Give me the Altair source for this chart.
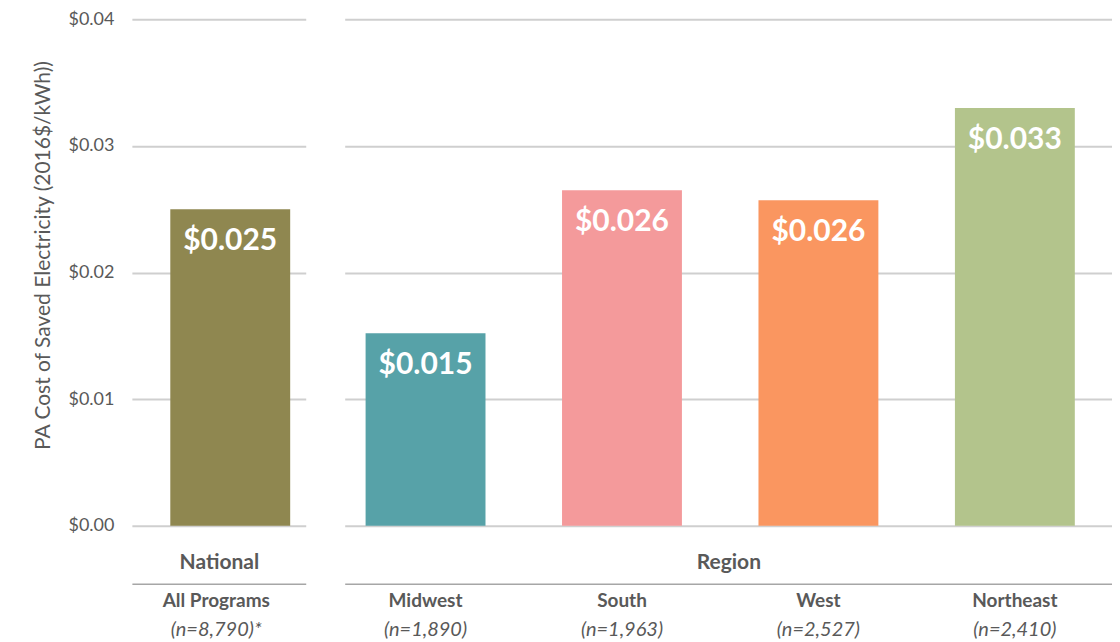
import altair as alt
import pandas as pd

# ---- data ----
nat_categories = ["All Programs"]
nat_values = [0.025]
nat_labels = ["$0.025"]
nat_n = ["(n=8,790)*"]
nat_colors = ["#8F8750"]

reg_categories = ["Midwest", "South", "West", "Northeast"]
reg_values = [0.0152, 0.0265, 0.0257, 0.0330]
reg_labels = ["$0.015", "$0.026", "$0.026", "$0.033"]
reg_n = ["(n=1,890)", "(n=1,963)", "(n=2,527)", "(n=2,410)"]
reg_colors = ["#57A2A8", "#F49A9B", "#FA9660", "#B3C48C"]

y_ticks = [0.0, 0.01, 0.02, 0.03, 0.04]

nat_df = pd.DataFrame({"cat": nat_categories, "value": nat_values,
                       "label": nat_labels, "n": nat_n})
reg_df = pd.DataFrame({"cat": reg_categories, "value": reg_values,
                       "label": reg_labels, "n": reg_n})

all_cats = nat_categories + reg_categories
all_colors = nat_colors + reg_colors

FONT = "Lato"
GREY = "#595959"
GRID = "#CFCFCF"
H = 507


def panel(df, cats, width, title, align, po, left_axis, shift):
    xscale = alt.Scale(domain=cats, paddingInner=0.39, paddingOuter=po, align=align)
    xaxis = alt.Axis(
        title=title, titleY=-21, titleBaseline="middle", titleFont=FONT,
        titleFontSize=21, titleFontWeight="bold", titleColor=GREY,
        orient="bottom", offset=58, domain=True, domainColor="#A6A6A6",
        domainWidth=1.5, ticks=False, grid=False,
        labelFont=FONT, labelFontSize=19, labelFontWeight="bold",
        labelColor=GREY, labelPadding=17, labelBaseline="middle",
        labelOffset=shift, labelAngle=0,
    )
    if left_axis:
        yaxis = alt.Axis(
            title="PA Cost of Saved Electricity (2016$/kWh))", values=y_ticks,
            format="$.2f", domain=False, ticks=False, grid=True,
            gridColor=GRID, gridWidth=2, labelFont=FONT, labelFontSize=18,
            labelColor=GREY, labelPadding=18, titleFont=FONT,
            titleFontSize=21, titleFontWeight="normal", titleColor=GREY,
            titlePadding=14, titleY=236,
        )
    else:
        yaxis = alt.Axis(
            title=None, values=y_ticks, labels=False, domain=False,
            ticks=False, grid=True, gridColor=GRID, gridWidth=2,
        )
    yscale = alt.Scale(domain=[0, 0.04])
    base = alt.Chart(df)
    bars = base.mark_bar(size=120).encode(
        x=alt.X("cat:N", scale=xscale, axis=xaxis, sort=cats),
        y=alt.Y("value:Q", scale=yscale, axis=yaxis),
        color=alt.Color("cat:N", scale=alt.Scale(domain=all_cats, range=all_colors),
                        legend=None),
    )
    vals = base.mark_text(font=FONT, fontSize=30, fontWeight="bold",
                          color="white", baseline="middle", dy=32).encode(
        x=alt.X("cat:N", sort=cats),
        y=alt.Y("value:Q"),
        text="label:N",
    )
    nlab = base.mark_text(font=FONT, fontSize=20, fontStyle="italic",
                          color=GREY, baseline="middle", dx=shift).encode(
        x=alt.X("cat:N", sort=cats),
        y=alt.value(H + 104),
        text="n:N",
    )
    return alt.layer(bars, vals, nlab).properties(width=width, height=H)


left = panel(nat_df, nat_categories, 174, "National", 0.709, 0.14, True, -14)
right = panel(reg_df, reg_categories, 768, "Region", 0.36, 0.148, False, 0)

chart = alt.hconcat(left, right, spacing=39).properties(
    padding={"left": 24, "top": 2, "right": 0, "bottom": 0}
).configure_view(stroke=None).configure_concat(spacing=39)

chart.save("out.html", embed_options={"renderer": "svg", "actions": False})
